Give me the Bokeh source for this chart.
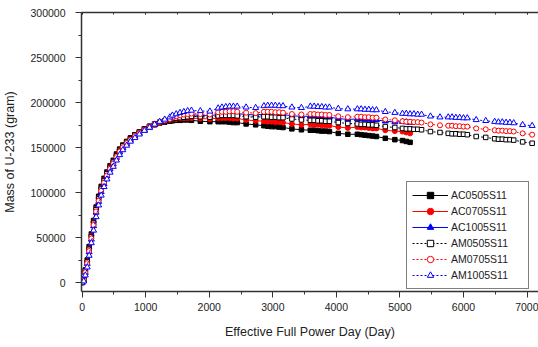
from bokeh.plotting import figure
from bokeh.models import Range1d, SingleIntervalTicker, LinearAxis, Legend, LegendItem, BasicTickFormatter
from bokeh.embed import file_html
from bokeh.resources import INLINE

# ---------------- data ----------------
DAYS_AC = [0, 25, 50, 80, 110, 145, 180, 220, 260, 300, 345, 390, 440, 490, 540, 590, 640, 700,
           760, 830, 900, 980, 1060, 1140, 1220, 1300, 1380,
           1420, 1480, 1540, 1600, 1660, 1720, 1860, 2010,
           2140, 2200, 2260, 2320, 2380, 2440, 2580, 2730,
           2860, 2920, 2980, 3040, 3100, 3160, 3300, 3450,
           3590, 3650, 3710, 3770, 3830, 3890, 4030, 4180,
           4330, 4390, 4450, 4510, 4570, 4630, 4770, 4920,
           5040, 5100, 5160]

DAYS_AM = [0, 25, 50, 80, 110, 145, 180, 220, 260, 300, 345, 390, 440, 490, 540, 590, 640, 700,
           760, 830, 900, 980, 1060, 1140, 1220, 1300, 1380,
           1420, 1480, 1540, 1600, 1660, 1720, 1860, 2010,
           2140, 2200, 2260, 2320, 2380, 2440, 2580, 2730,
           2860, 2920, 2980, 3040, 3100, 3160, 3300, 3450,
           3590, 3650, 3710, 3770, 3830, 3890, 4030, 4180,
           4330, 4390, 4450, 4510, 4570, 4630, 4770, 4920,
           5040, 5100, 5160, 5220, 5280, 5340, 5480, 5630,
           5760, 5820, 5880, 5940, 6000, 6060, 6200, 6350,
           6490, 6550, 6610, 6670, 6730, 6790, 6930, 7080]

AC0505 = [0, 4000, 14000, 25000, 40000, 54000, 69000, 84000, 96000, 107000, 116000, 123000, 130000,
          136000, 143000, 148500, 153000, 157000, 161000, 164500, 167500, 171000, 173500, 175500,
          177500, 178500, 179500,
          180000, 180500, 180500, 181000, 181000, 180500, 179500, 179000,
          179000, 179000, 179000, 178500, 178000, 178000, 176500, 175500,
          174500, 174000, 173500, 173500, 173000, 172500, 171000, 170000,
          169500, 169500, 169000, 168500, 168500, 168000, 166000, 165000,
          165000, 164500, 164000, 163500, 163000, 162500, 160500, 159000,
          158000, 157000, 156000]

AC0705 = [0, 3500, 13000, 23500, 38000, 52000, 67000, 82000, 94000, 105000, 114000, 121500, 128500,
          134500, 141500, 147500, 152000, 156000, 160000, 164000, 167000, 170500, 173500, 176000,
          178000, 179500, 181000,
          181500, 182000, 182500, 183000, 183000, 183000, 182500, 182000,
          183000, 183000, 183000, 183000, 182500, 182500, 181000, 180000,
          179500, 179000, 179000, 178500, 178500, 178000, 176500, 175500,
          176000, 175500, 175500, 175000, 175000, 174500, 173000, 172000,
          173000, 172500, 172500, 172000, 171500, 171500, 169500, 168500,
          168000, 167000, 166000]

AC1005 = [0, 2500, 11000, 21000, 34000, 48000, 63000, 78000, 90000, 101000, 110000, 118500, 126000,
          132000, 139000, 145000, 150000, 154500, 158500, 162500, 166000, 169500, 172500, 175500,
          178000, 179500, 181500,
          182500, 183500, 184500, 185500, 186000, 186500, 186000, 185500,
          187000, 187500, 188000, 188000, 188000, 188000, 187000, 186500,
          187500, 187500, 187500, 187000, 187000, 187000, 185500, 185000,
          185000, 185000, 184500, 184500, 184000, 184000, 182500, 181500,
          182000, 182000, 181500, 181500, 181000, 181000, 179500, 178500,
          179000, 178500, 178000]

AM0505 = [0, 3500, 13000, 23000, 37000, 51000, 66000, 81000, 93000, 104000, 113000, 121000, 128000,
          134000, 141000, 147000, 152000, 156000, 160000, 164000, 167500, 171000, 174000, 176500,
          178500, 180000, 181500,
          182500, 183000, 183500, 184000, 184500, 185000, 184500, 184000,
          185500, 186000, 186000, 186000, 186000, 185500, 184500, 184000,
          184500, 184500, 184000, 184000, 183500, 183500, 182000, 181000,
          180500, 180500, 180000, 180000, 179500, 179500, 178000, 177000,
          176500, 176000, 176000, 175500, 175500, 175000, 173500, 172500,
          171500, 171000, 171000, 170500, 170500, 170000, 168000, 167000,
          166000, 165500, 165500, 165000, 165000, 164500, 162500, 161500,
          160000, 159500, 159500, 159000, 159000, 158500, 156500, 155000]

AM0705 = [0, 2800, 11500, 21500, 35000, 49000, 64000, 79000, 91000, 102000, 111000, 119000, 126500,
          132500, 139500, 145500, 150500, 155000, 159000, 163000, 166500, 170000, 173500, 176000,
          178500, 180500, 182000,
          184000, 185000, 186000, 187000, 187500, 188000, 187500, 187000,
          189500, 190000, 190000, 190500, 190500, 190000, 189000, 188500,
          190000, 190000, 190000, 189500, 189500, 189000, 187500, 187000,
          187500, 187500, 187000, 187000, 186500, 186500, 185000, 184000,
          184500, 184500, 184000, 184000, 183500, 183500, 181500, 180500,
          179500, 179000, 179000, 178500, 178500, 178000, 176000, 175000,
          174500, 174500, 174000, 174000, 173500, 173500, 171500, 170500,
          169500, 169000, 169000, 168500, 168500, 168000, 166000, 164500]

AM1005 = [0, 1500, 8000, 17000, 30000, 44000, 58000, 73000, 86000, 97000, 106500, 115000, 122500,
          129000, 136000, 142000, 147500, 152500, 157000, 161000, 165000, 169000, 172500, 176000,
          179000, 181500, 184000,
          186000, 187500, 189000, 190000, 191000, 191500, 191000, 190500,
          194000, 195000, 195500, 196000, 196000, 196000, 195000, 194500,
          196500, 197000, 197000, 197000, 196500, 196500, 195000, 194500,
          196000, 196000, 195500, 195500, 195000, 195000, 193500, 193000,
          193000, 193000, 192500, 192500, 192000, 192000, 190000, 189000,
          188000, 188000, 187500, 187500, 187000, 187000, 185000, 184000,
          184000, 184000, 183500, 183500, 183000, 183000, 181000, 180000,
          179000, 178500, 178500, 178000, 178000, 177500, 175500, 174500]

LABELS = ["AC0505S11", "AC0705S11", "AC1005S11", "AM0505S11", "AM0705S11", "AM1005S11"]
X_TITLE = "Effective Full Power Day (Day)"
Y_TITLE = "Mass of U-233 (gram)"

FONT = "Liberation Sans"
TXT = "#222222"
AX = "#333333"

p = figure(width=538, height=347, output_backend="svg", toolbar_location=None,
           x_range=Range1d(-10, 7180), y_range=Range1d(-10000, 300500),
           min_border_left=81, min_border_right=0, min_border_top=12, min_border_bottom=56)
p.outline_line_color = None
p.xgrid.visible = False
p.ygrid.visible = False
p.background_fill_color = "white"
p.border_fill_color = "white"

xa = p.xaxis[0]
xa.ticker = SingleIntervalTicker(interval=1000, num_minor_ticks=2)
xa.axis_label = X_TITLE
ya = p.yaxis[0]
ya.ticker = SingleIntervalTicker(interval=50000, num_minor_ticks=2)
ya.formatter = BasicTickFormatter(use_scientific=False)
ya.axis_label = Y_TITLE

for ax in (xa, ya):
    ax.axis_line_color = AX
    ax.axis_line_width = 1.5
    ax.major_tick_line_color = AX
    ax.minor_tick_line_color = AX
    ax.major_tick_in = 0
    ax.major_tick_out = 6
    ax.minor_tick_in = 0
    ax.minor_tick_out = 3
    ax.major_label_text_font = FONT
    ax.major_label_text_font_size = "10.5px"
    ax.major_label_text_color = TXT
    ax.axis_label_text_font = FONT
    ax.axis_label_text_font_size = "12.5px"
    ax.axis_label_text_font_style = "normal"
    ax.axis_label_text_color = TXT
xa.major_label_standoff = 5
xa.axis_label_standoff = 11
ya.major_label_standoff = 10
ya.axis_label_standoff = 10

top = LinearAxis(ticker=SingleIntervalTicker(interval=1000, num_minor_ticks=2))
top.axis_line_color = AX
top.axis_line_width = 1.5
top.major_tick_line_color = AX
top.minor_tick_line_color = AX
top.major_tick_in = 2
top.major_tick_out = 0
top.minor_tick_in = 2
top.minor_tick_out = 0
top.major_label_text_font_size = "0px"
top.major_label_text_alpha = 0
p.add_layout(top, "above")

items = []

def add_series(xs, ys, color, marker, dash, filled, label, size):
    lr = p.line(xs, ys, line_color=color, line_width=1, line_dash=dash)
    fill = color if filled else "white"
    mr = p.scatter(xs, ys, marker=marker, size=size, line_color=color, fill_color=fill, line_width=1)
    items.append(LegendItem(label=label, renderers=[lr, mr]))

add_series(DAYS_AC, AC0505, "black", "square", "solid", True, LABELS[0], 4.5)
add_series(DAYS_AC, AC0705, "red", "circle", "solid", True, LABELS[1], 5)
add_series(DAYS_AC, AC1005, "blue", "triangle", "solid", True, LABELS[2], 6)
add_series(DAYS_AM, AM0505, "black", "square", "2 2", False, LABELS[3], 4.5)
add_series(DAYS_AM, AM0705, "red", "circle", "2 2", False, LABELS[4], 5)
add_series(DAYS_AM, AM1005, "blue", "triangle", "2 2", False, LABELS[5], 6)

legend = Legend(items=items, location=(325, 2))
legend.border_line_color = "black"
legend.border_line_width = 1
legend.background_fill_color = "white"
legend.background_fill_alpha = 1
legend.label_text_font = FONT
legend.label_text_font_size = "10.5px"
legend.label_text_color = TXT
legend.glyph_width = 36
legend.glyph_height = 16
legend.label_height = 16
legend.label_width = 72
legend.spacing = 0
legend.padding = 5
legend.margin = 0
legend.label_standoff = 3
p.add_layout(legend)

open("out.html", "w").write(file_html(p, INLINE))
